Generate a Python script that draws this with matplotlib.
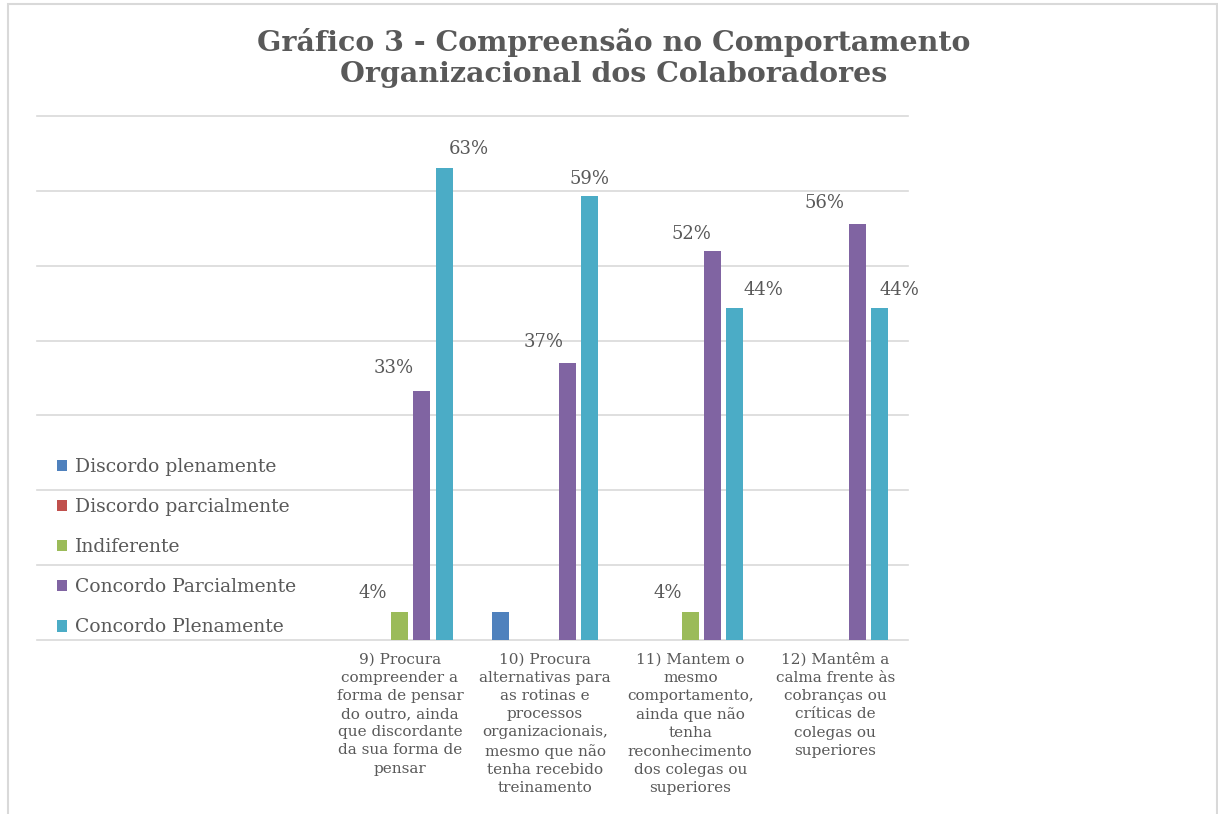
import matplotlib.pyplot as plt
import numpy as np
from matplotlib.patches import Patch, Rectangle

# Data
categories = [
    "9) Procura\ncompreender a\nforma de pensar\ndo outro, ainda\nque discordante\nda sua forma de\npensar",
    "10) Procura\nalternativas para\nas rotinas e\nprocessos\norganizacionais,\nmesmo que não\ntenha recebido\ntreinamento",
    "11) Mantem o\nmesmo\ncomportamento,\nainda que não\ntenha\nreconhecimento\ndos colegas ou\nsuperiores",
    "12) Mantêm a\ncalma frente às\ncobranças ou\ncríticas de\ncolegas ou\nsuperiores",
]
series_names = [
    "Discordo plenamente",
    "Discordo parcialmente",
    "Indiferente",
    "Concordo Parcialmente",
    "Concordo Plenamente",
]
discordo_plenamente = [0.0, 0.037, 0.0, 0.0]
discordo_parcialmente = [0.0, 0.0, 0.0, 0.0]
indiferente = [0.037, 0.0, 0.037, 0.0]
concordo_parcialmente = [0.333, 0.370, 0.519, 0.556]
concordo_plenamente = [0.630, 0.593, 0.444, 0.444]

colors = ["#4f81bd", "#c0504d", "#9bbb59", "#8064a2", "#4bacc6"]
text_grey = "#595959"
grid_grey = "#d9d9d9"

# which data labels are shown, with their pixel offsets (series, category): (dx, dy)
label_offsets = {
    (2, 0): (-27, 19), (3, 0): (-28, 23), (4, 0): (25, 19),
    (3, 1): (-24, 21), (4, 1): (0, 17),
    (2, 2): (-22, 19), (3, 2): (-21, 17), (4, 2): (29, 18),
    (3, 3): (-33, 21), (4, 3): (20, 18),
}

plt.rcParams["font.family"] = ["DejaVu Serif"]

fig = plt.figure(figsize=(12.18, 8.14), dpi=100)
ax = fig.add_axes([37 / 1218, 174 / 814, 871 / 1218, 524 / 814])

values = [discordo_plenamente, discordo_parcialmente, indiferente,
          concordo_parcialmente, concordo_plenamente]
x = np.arange(len(categories))
step, bar_w = 0.152, 0.117

for i, (name, vals, col) in enumerate(zip(series_names, values, colors)):
    pos = x + (i - 2) * step
    ax.bar(pos, vals, width=bar_w, color=col, zorder=3)
    for j, v in enumerate(vals):
        if (i, j) in label_offsets:
            dx, dy = label_offsets[(i, j)]
            ax.annotate(f"{v:.0%}", (pos[j], v), xytext=(dx, dy),
                        textcoords="offset pixels", ha="center", va="center",
                        fontsize=13, color=text_grey)

ax.set_xlim(-2.5, 3.5)
ax.set_ylim(0, 0.7)
ax.set_yticks(np.arange(0, 0.71, 0.1))
ax.yaxis.grid(True, color=grid_grey, lw=1.2, zorder=0)
for gl in ax.get_ygridlines():
    gl.set_clip_on(False)
ax.tick_params(axis="y", left=False, labelleft=False)
ax.set_xticks(x)
ax.set_xticklabels(categories, fontsize=11, color=text_grey, linespacing=1.38)
ax.tick_params(axis="x", length=0, pad=9)
for s in ax.spines.values():
    s.set_visible(False)

handles = [Patch(facecolor=c) for c in colors]
ax.legend(handles, series_names, loc="upper left",
          bbox_to_anchor=(57 / 1218, 1 - 458 / 814), bbox_transform=fig.transFigure,
          frameon=False, fontsize=13.5, labelcolor=text_grey,
          handlelength=0.55, handleheight=0.55, handletextpad=0.4,
          labelspacing=1.18, borderpad=0, borderaxespad=0)

fig.text(614 / 1218, 1 - 58 / 814,
         "Gráfico 3 - Compreensão no Comportamento\nOrganizacional dos Colaboradores",
         ha="center", va="center", fontsize=20.5, fontweight="bold",
         color=text_grey, linespacing=1.2)

# chart frame
fig.patches.append(Rectangle((8 / 1218, -0.02), 1209 / 1218, 1.02 - 4 / 814,
                             transform=fig.transFigure, fill=False,
                             edgecolor=grid_grey, lw=1.5))

fig.savefig("out.png", dpi=100)
